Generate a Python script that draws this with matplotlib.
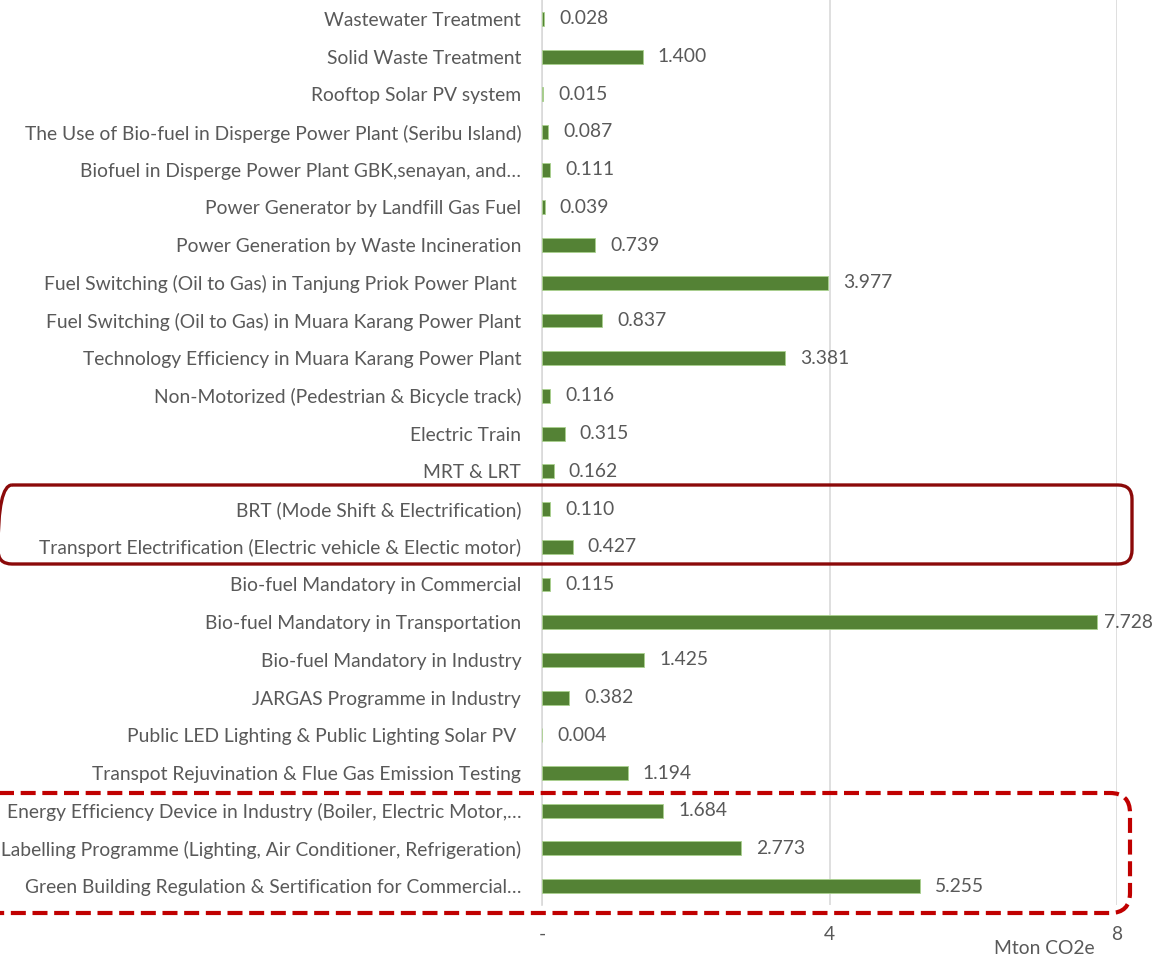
import matplotlib
matplotlib.use("Agg")
import matplotlib.pyplot as plt
from matplotlib.patches import FancyBboxPatch
from matplotlib.transforms import Affine2D

categories = [
    "Wastewater Treatment",
    "Solid Waste Treatment",
    "Rooftop Solar PV system",
    "The Use of Bio-fuel in Disperge Power Plant (Seribu Island)",
    "Biofuel in Disperge Power Plant GBK,senayan, and…",
    "Power Generator by Landfill Gas Fuel",
    "Power Generation by Waste Incineration",
    "Fuel Switching (Oil to Gas) in Tanjung Priok Power Plant ",
    "Fuel Switching (Oil to Gas) in Muara Karang Power Plant",
    "Technology Efficiency in Muara Karang Power Plant",
    "Non-Motorized (Pedestrian & Bicycle track)",
    "Electric Train",
    "MRT & LRT",
    "BRT (Mode Shift & Electrification)",
    "Transport Electrification (Electric vehicle & Electic motor)",
    "Bio-fuel Mandatory in Commercial",
    "Bio-fuel Mandatory in Transportation",
    "Bio-fuel Mandatory in Industry",
    "JARGAS Programme in Industry",
    "Public LED Lighting & Public Lighting Solar PV ",
    "Transpot Rejuvination & Flue Gas Emission Testing",
    "Energy Efficiency Device in Industry (Boiler, Electric Motor,…",
    "Energy Labelling Programme (Lighting, Air Conditioner, Refrigeration)",
    "Green Building Regulation & Sertification for Commercial…",
]
values = [0.028, 1.400, 0.015, 0.087, 0.111, 0.039, 0.739, 3.977, 0.837, 3.381,
          0.116, 0.315, 0.162, 0.110, 0.427, 0.115, 7.728, 1.425, 0.382, 0.004,
          1.194, 1.684, 2.773, 5.255]
tick_values = [0, 4, 8]
tick_labels = ["-", "4", "8"]
axis_title = "Mton CO2e"

W, H = 1155, 958
fig = plt.figure(figsize=(W / 100, H / 100), dpi=100)
fig.patch.set_facecolor("white")
plt.rcParams['font.family'] = ['Lato', 'DejaVu Sans']

ax_left, ax_right, ax_top, ax_bottom = 542, 1117, 0, 905
ax = fig.add_axes([ax_left / W, 1 - ax_bottom / H, (ax_right - ax_left) / W, (ax_bottom - ax_top) / H])

txt = "#595959"
fs = 13.9
n = len(categories)
ypos = list(range(n))
ax.barh(ypos, values, height=0.37, color="#548235", edgecolor="#a9d18e", linewidth=0.6, zorder=3)
ax.set_ylim(n - 0.5, -0.5)
ax.set_xlim(0, 8)
ax.set_yticks(ypos)
ax.set_yticklabels(categories, fontsize=fs, color=txt)
ax.tick_params(axis='y', length=0, pad=15)
ax.set_xticks(tick_values)
ax.set_xticklabels(tick_labels, fontsize=fs, color=txt)
ax.tick_params(axis='x', length=0, pad=15)
for s in ["top", "right", "bottom"]:
    ax.spines[s].set_visible(False)
ax.spines["left"].set_color("#d9d9d9")
ax.spines["left"].set_linewidth(1.2)
ax.grid(axis='x', color="#d9d9d9", linewidth=1.2, zorder=0)
ax.set_axisbelow(True)

labels = []
for y, v in zip(ypos, values):
    t = ax.annotate(f"{v:.3f}", (v, y), xytext=(15, 0), textcoords="offset pixels",
                    va="center", ha="left", fontsize=fs, color=txt, zorder=5)
    labels.append(t)

fig.text(1044 / W, 1 - 948 / H, axis_title, ha="center", va="center", fontsize=fs, color=txt)

pix = Affine2D().scale(1, -1).translate(0, H)
box1 = FancyBboxPatch((-2, 485), 1134, 79, boxstyle="round,pad=0,rounding_size=14",
                      transform=pix, fill=False, edgecolor="#8b0a0a", linewidth=2.4)
fig.add_artist(box1)
box2 = FancyBboxPatch((-30, 793), 1160, 120, boxstyle="round,pad=0,rounding_size=20",
                      transform=pix, fill=False, edgecolor="#c00000", linewidth=3.0,
                      linestyle=(0, (3.6, 1.6)))
fig.add_artist(box2)

# keep value labels inside the picture, as the original chart does
fig.canvas.draw()
r = fig.canvas.get_renderer()
for t in labels:
    bb = t.get_window_extent(r)
    if bb.x1 > W - 2:
        t.xyann = (15 - (bb.x1 - (W - 2)), 0)

fig.savefig("out.png", dpi=100)
